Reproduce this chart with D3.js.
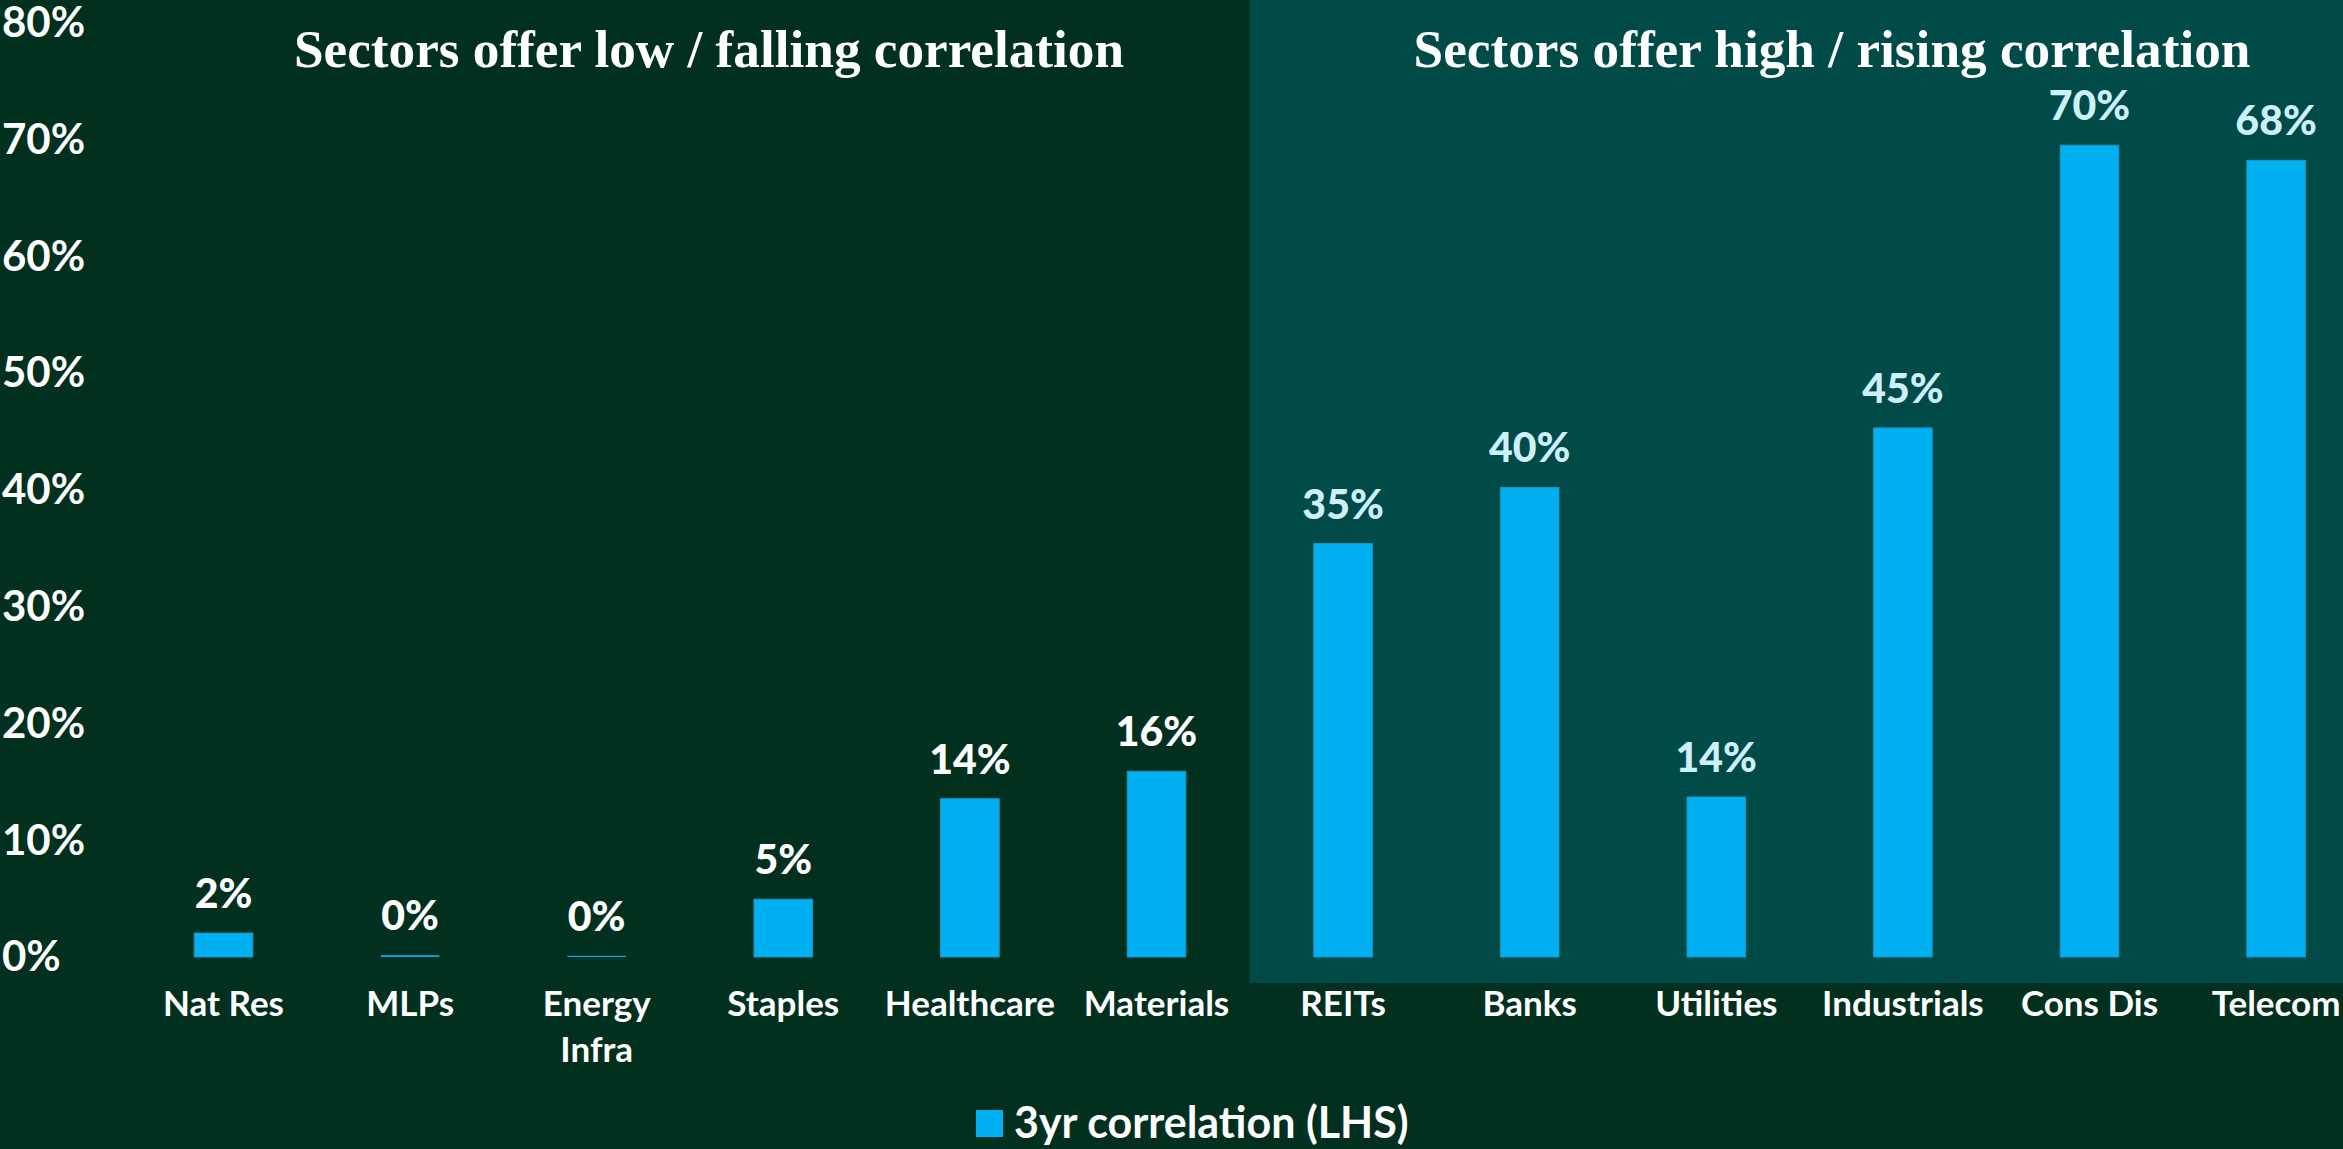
<!DOCTYPE html>
<html>
<head>
<meta charset="utf-8">
<script src="https://cdn.jsdelivr.net/npm/d3@7"></script>
<style>
  html, body { margin: 0; padding: 0; background: #02301f; overflow: hidden; }
  svg { display: block; }
</style>
</head>
<body>
<svg id="chart" width="2343" height="1149"></svg>
<script>
// ---- data ----
const categories = ["Nat Res", "MLPs", "Energy Infra", "Staples", "Healthcare", "Materials",
                    "REITs", "Banks", "Utilities", "Industrials", "Cons Dis", "Telecom"];
const correlation3yr = [2.05, 0.15, 0.1, 4.95, 13.55, 15.9, 35.4, 40.2, 13.7, 45.3, 69.5, 68.2];
const valueLabels = ["2%", "0%", "0%", "5%", "14%", "16%", "35%", "40%", "14%", "45%", "70%", "68%"];
const yTicks = [0, 10, 20, 30, 40, 50, 60, 70, 80];
const panelTitles = ["Sectors offer low / falling correlation", "Sectors offer high / rising correlation"];
const highGroupStart = "REITs";
const seriesName = "3yr correlation (LHS)";

// ---- styling ----
const W = 2343, H = 1149;
const bg = "#02301f", teal = "#004b48", barColor = "#00b0f0";
const font = "Lato, 'Open Sans', sans-serif";

const svg = d3.select("#chart");
svg.append("rect").attr("width", W).attr("height", H).attr("fill", bg);

const x = d3.scaleBand().domain(categories).range([130.2, 2369.4])
  .paddingInner(0.686).paddingOuter(0.343);
const y = d3.scaleLinear().domain([0, 80]).range([957, 22.6]);

// highlighted panel
const iHigh = categories.indexOf(highGroupStart);
const panelX = (x(categories[iHigh - 1]) + x(highGroupStart) + x.bandwidth()) / 2;
svg.append("rect")
  .attr("x", panelX).attr("y", 0)
  .attr("width", W - panelX).attr("height", y(0) + 26)
  .attr("fill", teal);

// panel titles
const titleCenters = [709, 1832];
const titleWidths = [830, 837];
svg.selectAll("text.ptitle").data(panelTitles).join("text")
  .attr("class", "ptitle")
  .attr("x", (d, i) => titleCenters[i])
  .attr("y", 67)
  .attr("text-anchor", "middle")
  .attr("fill", "#ffffff")
  .style("font-family", "'Liberation Serif', 'DejaVu Serif', serif")
  .style("font-weight", "bold")
  .style("font-size", "52px")
  .attr("textLength", (d, i) => titleWidths[i])
  .attr("lengthAdjust", "spacingAndGlyphs")
  .text(d => d);

// y axis
const yAxis = d3.axisLeft(y).tickValues(yTicks).tickSize(0).tickFormat(d => d + "%");
const gy = svg.append("g").call(yAxis);
gy.select(".domain").remove();
gy.selectAll("text")
  .attr("x", 2).attr("dy", "0.33em")
  .attr("text-anchor", "start")
  .attr("fill", "#ffffff")
  .style("font-family", font).style("font-weight", "bold").style("font-size", "42px");

// x axis
const xAxis = d3.axisBottom(x).tickSize(0);
const gx = svg.append("g").attr("transform", `translate(0, ${y(0)})`).call(xAxis);
gx.select(".domain").remove();
gx.selectAll("text").each(function(d) {
  const t = d3.select(this);
  t.text(null).attr("y", 0).attr("dy", null)
    .attr("fill", "#ffffff")
    .style("font-family", font).style("font-weight", "bold").style("font-size", "35px");
  const words = d === "Energy Infra" ? ["Energy", "Infra"] : [d];
  words.forEach((w, k) => {
    t.append("tspan").attr("x", 0).attr("y", 59 + k * 46).text(w);
  });
});

// bars
const data = categories.map((c, i) => ({ c, v: correlation3yr[i], lab: valueLabels[i], high: i >= iHigh }));
svg.selectAll("rect.bar").data(data).join("rect")
  .attr("class", "bar")
  .attr("x", d => x(d.c))
  .attr("width", x.bandwidth())
  .attr("y", d => y(d.v))
  .attr("height", d => y(0) - y(d.v))
  .attr("fill", barColor)
  .attr("stroke", "#1598c8").attr("stroke-width", d => (y(0) - y(d.v)) > 4 ? 1 : 0);

// value labels
svg.selectAll("text.val").data(data).join("text")
  .attr("class", "val")
  .attr("x", d => x(d.c) + x.bandwidth() / 2)
  .attr("y", d => y(d.v) - 25)
  .attr("text-anchor", "middle")
  .attr("fill", d => d.high ? "#cdf0fa" : "#ffffff")
  .style("font-family", font).style("font-weight", "900").style("font-size", "41px")
  .text(d => d.lab);

// legend
const lg = svg.append("g").attr("transform", "translate(976, 1110)");
lg.append("rect").attr("width", 27).attr("height", 27).attr("fill", barColor);
lg.append("text").attr("x", 38).attr("y", 13).attr("dy", "0.36em")
  .attr("fill", "#ffffff")
  .style("font-family", font).style("font-weight", "bold").style("font-size", "43px")
  .text(seriesName);
</script>
</body>
</html>
